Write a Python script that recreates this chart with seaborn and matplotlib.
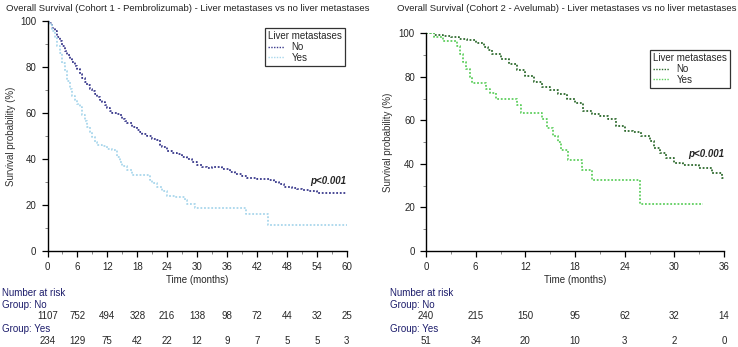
import matplotlib
matplotlib.use("Agg")
import matplotlib.pyplot as plt
import matplotlib.transforms as mtransforms
from matplotlib.ticker import MultipleLocator
import pandas as pd
import seaborn as sns

# Cohort 1 - Pembrolizumab (step curves: time, survival %)
c1_no_t = [0, 0.5, 1, 1.5, 2, 2.5, 3, 3.5, 4, 4.5, 5, 5.5, 6, 6.5, 7, 7.5, 8, 8.5, 9, 9.5,
           10, 10.5, 11, 11.5, 12, 12.5, 13, 14, 14.5, 15, 15.5, 16, 17, 18, 18.5, 19, 20, 21,
           22, 22.5, 23, 24, 25, 26, 27, 28, 29, 30, 31, 32, 33, 35, 36.5, 37.5, 39, 40, 42,
           44.5, 45.5, 46.5, 47.5, 49, 50, 51, 52.5, 54, 60]
c1_no_s = [100, 99, 97, 95.5, 93, 91, 89, 87, 85, 83.5, 82, 80.5, 79, 77, 75, 73.5, 72, 70.5, 69.5, 68,
           67, 65.5, 64.5, 63.5, 62, 61, 60, 59.5, 59, 57.5, 56.5, 55.5, 54, 52.5, 51.5, 51, 50, 48.5,
           48, 46, 45, 43.5, 42.5, 42, 41, 40, 38.5, 37.5, 36.5, 36, 36.5, 35.5, 34.5, 33.5, 32.5, 31.5, 31.3,
           31, 30, 29, 28, 27.5, 26.8, 26.5, 26, 25.2, 25]
c1_yes_t = [0, 0.5, 1, 1.5, 2, 2.5, 3, 3.5, 4, 4.5, 5, 5.5, 6, 6.5, 7, 7.5, 8, 8.5, 9, 9.5,
            10, 11, 12, 13, 14, 14.5, 15, 16, 17, 20.5, 21, 22, 23, 24, 25.5, 27.5, 28, 29.5,
            39.8, 44.3, 60]
c1_yes_s = [100, 98, 95.5, 92.5, 89, 86, 81.5, 78, 74, 70.5, 67.5, 65.5, 64, 62.5, 59, 56.5, 54, 51.5, 49.5, 47.5,
            46, 45.5, 44.5, 43.8, 41, 38.5, 37, 35, 33, 31, 29.5, 27.8, 26, 24, 23.5, 22, 20.5, 18.5,
            16.2, 11.5, 11.5]

# Cohort 2 - Avelumab
c2_no_t = [0, 1, 2, 3, 4, 5, 6, 7, 7.5, 8, 9, 10, 11, 12, 13, 14, 15, 16, 17, 18, 19, 20, 21, 22,
           23, 24, 25, 26, 27, 27.5, 28.3, 29, 30, 31, 33, 34.5, 35.8, 36]
c2_no_s = [100, 99.2, 98.6, 98.2, 97.5, 96.8, 95.5, 93.5, 92.3, 90.5, 88.4, 86, 83, 80.5, 77.5, 75.5, 73.8,
           72, 69.8, 68, 64.5, 63, 62.2, 60.5, 57.5, 55, 54.5, 53, 50.5, 47.5, 45, 42.5, 40.5, 39.5, 38,
           36, 33.5, 33.5]
c2_yes_t = [0, 1, 2, 3.8, 4.1, 4.5, 4.8, 5.3, 5.6, 7.2, 7.7, 8.4, 11, 11.5, 14, 14.6, 15.4, 15.9, 16.3,
            17.2, 18.8, 20, 25.8, 33.5]
c2_yes_s = [100, 98.5, 96.5, 94, 90.5, 87, 83.5, 80, 77, 74.5, 72.4, 69.8, 67, 63.5, 60.7, 56.5, 53, 50,
            46.4, 41.8, 37.2, 32.6, 21.6, 21.6]

# Number at risk
c1_ticks = [0, 6, 12, 18, 24, 30, 36, 42, 48, 54, 60]
c1_risk_no = [1107, 752, 494, 328, 216, 138, 98, 72, 44, 32, 25]
c1_risk_yes = [234, 129, 75, 42, 22, 12, 9, 7, 5, 5, 3]
c2_ticks = [0, 6, 12, 18, 24, 30, 36]
c2_risk_no = [240, 215, 150, 95, 62, 32, 14]
c2_risk_yes = [51, 34, 20, 10, 3, 2, 0]

sns.set_style("ticks")
plt.rcParams['font.family'] = ['Liberation Sans', 'DejaVu Sans']
plt.rcParams['font.size'] = 7

W, H = 738, 347
fig = plt.figure(figsize=(W / 100, H / 100), dpi=100)

def px_ax(x0, y0, x1, y1):
    return fig.add_axes([x0 / W, 1 - y1 / H, (x1 - x0) / W, (y1 - y0) / H])

ax1 = px_ax(47.5, 20.7, 346.7, 251)
ax2 = px_ax(426, 33.3, 724, 251)

navy = "#1c1c6b"
ls = (0, (1, 1))

def fit_title(x0, x1, text):
    t = fig.text(x0 / W, 1 - 8.5 / H, text, ha="left", va="center", fontsize=7, color="#222222")
    w = t.get_window_extent(fig.canvas.get_renderer()).width
    t.set_fontsize(7 * (x1 - x0) / w)

def panel(ax, t_no, s_no, t_yes, s_yes, c_no, c_yes, xmax, ticks, risk_no, risk_yes,
          ylab_x, risk_x, legend_anchor, ptxt):
    df = pd.concat([
        pd.DataFrame({"t": t_no, "s": s_no, "g": "No"}),
        pd.DataFrame({"t": t_yes, "s": s_yes, "g": "Yes"}),
    ])
    sns.lineplot(data=df, x="t", y="s", hue="g", palette={"No": c_no, "Yes": c_yes},
                 estimator=None, drawstyle="steps-post", linestyle=ls, linewidth=1.3,
                 ax=ax, legend=True)
    ax.set_xlim(0, xmax)
    ax.set_ylim(0, 100)
    sns.despine(ax=ax)
    for sp in ("left", "bottom"):
        ax.spines[sp].set_linewidth(1.0)
        ax.spines[sp].set_color("black")
    ax.xaxis.set_major_locator(MultipleLocator(6))
    ax.xaxis.set_minor_locator(MultipleLocator(3))
    ax.yaxis.set_major_locator(MultipleLocator(20))
    ax.yaxis.set_minor_locator(MultipleLocator(10))
    ax.tick_params(which="major", length=4.5, width=0.9, labelsize=7, pad=3.5, color="black")
    ax.tick_params(which="minor", length=2.5, width=0.7, color="#888888")
    ax.set_xlabel("Time (months)", fontsize=7, labelpad=2)
    ax.set_ylabel("")
    pos = ax.get_position()
    fig.text(ylab_x / W, (pos.y0 + pos.y1) / 2, "Survival probability (%)", rotation=90,
             ha="center", va="center", fontsize=7, color="#333333")
    ax.text(xmax, ptxt, "p<0.001", ha="right", va="center", fontsize=7,
            fontweight="bold", fontstyle="italic")

    handles, labels = ax.get_legend_handles_labels()
    leg = ax.legend(handles, labels, title="Liver metastases", loc="upper right",
                    bbox_to_anchor=legend_anchor, borderaxespad=0, frameon=True, fancybox=False,
                    edgecolor="black", fontsize=7, title_fontsize=7, handlelength=1.6,
                    handletextpad=0.8, borderpad=0.3, labelspacing=0.05,
                    alignment="left")
    leg.get_frame().set_linewidth(0.9)
    leg._legend_box.sep = 1
    for ln in leg.get_lines():
        ln.set_linestyle(ls)
        ln.set_linewidth(1.0)

    tr = mtransforms.blended_transform_factory(ax.transData, fig.transFigure)
    fig.text(risk_x / W, 1 - 292.7 / H, "Number at risk", color=navy, va="center", fontsize=7)
    fig.text(risk_x / W, 1 - 304.5 / H, "Group: No", color=navy, va="center", fontsize=7)
    fig.text(risk_x / W, 1 - 329 / H, "Group: Yes", color=navy, va="center", fontsize=7)
    for x, a, b in zip(ticks, risk_no, risk_yes):
        ax.text(x, 1 - 316 / H, str(a), transform=tr, ha="center", va="center", fontsize=7)
        ax.text(x, 1 - 340.7 / H, str(b), transform=tr, ha="center", va="center", fontsize=7)

panel(ax1, c1_no_t, c1_no_s, c1_yes_t, c1_yes_s, "#3a3a8c", "#a9d7ec", 60, c1_ticks,
      c1_risk_no, c1_risk_yes, 11.5, 2, (0.994, 0.968), 30.4)
panel(ax2, c2_no_t, c2_no_s, c2_yes_t, c2_yes_s, "#2f6b2f", "#5fcf5f", 36, c2_ticks,
      c2_risk_no, c2_risk_yes, 388, 390, (1.020, 0.923), 44.4)

fit_title(6.5, 369, "Overall Survival (Cohort 1 - Pembrolizumab) - Liver metastases vs no liver metastases")
fit_title(397, 735, "Overall Survival (Cohort 2 - Avelumab) - Liver metastases vs no liver metastases")

fig.savefig("out.png", dpi=100)
